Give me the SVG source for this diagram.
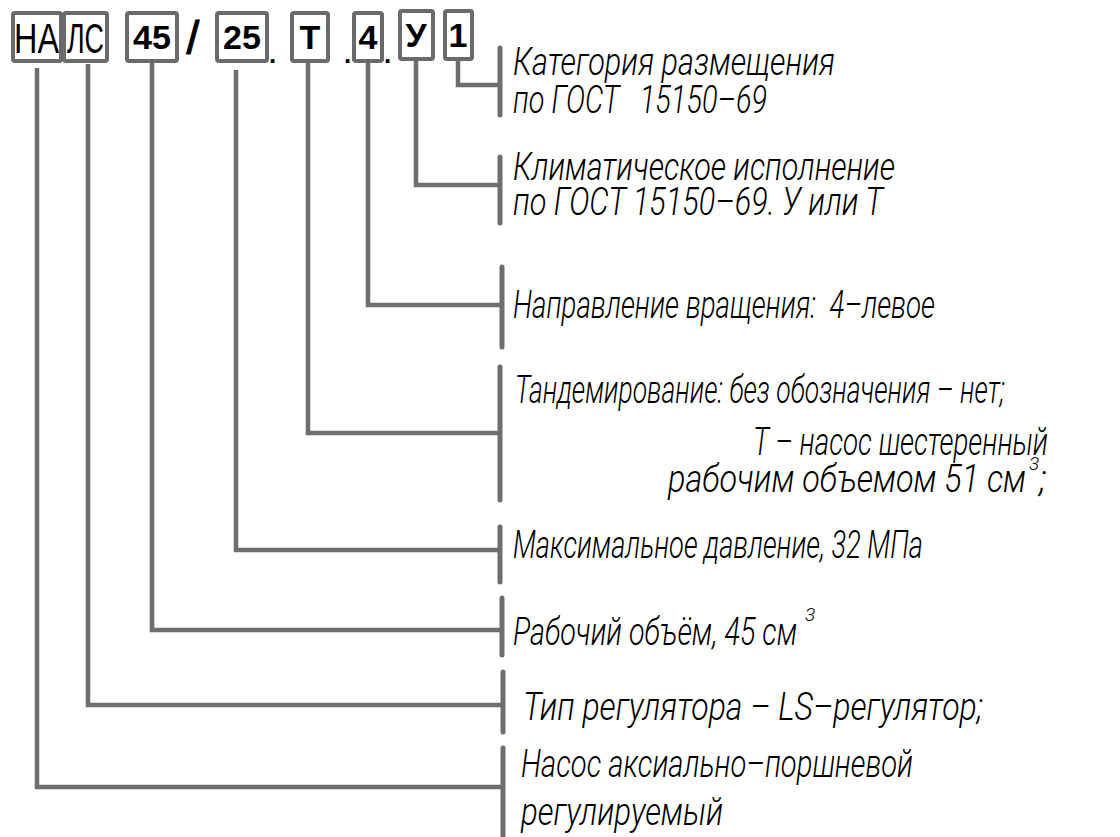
<svg xmlns="http://www.w3.org/2000/svg" width="1120" height="837" viewBox="0 0 1120 837">
<style>
.box{fill:#fff;stroke:#6a6a6a;stroke-width:4}
.con{fill:none;stroke:#6e6e6e;stroke-width:4.5;stroke-linejoin:miter}
.br{stroke:#6e6e6e;stroke-width:5;stroke-linecap:round}
.code{font-family:"Liberation Sans",Arial,sans-serif;font-weight:bold;font-size:34px;fill:#000;text-anchor:middle}
.thin{font-family:"Liberation Sans",Arial,sans-serif;font-size:42px;fill:#000}
.lbl{font-family:Roboto,"Liberation Sans",Arial,sans-serif;font-style:italic;font-weight:300;font-size:38px;fill:#000}
.dot{font-family:"Liberation Sans",Arial,sans-serif;font-weight:bold;font-size:26px;fill:#000}
</style>
<rect width="1120" height="837" fill="#fff"/>
<g id="connectors">
<path class="con" d="M37 68V787H503"/>
<path class="con" d="M88 64V705H503"/>
<path class="con" d="M152 62V630H502"/>
<path class="con" d="M236 70V550H500"/>
<path class="con" d="M308 62V433H500"/>
<path class="con" d="M368 62V305H502"/>
<path class="con" d="M416 60V185H500"/>
<path class="con" d="M458 60V85H500"/>
<line class="br" x1="500" y1="48" x2="500" y2="115"/>
<line class="br" x1="500" y1="157" x2="500" y2="223"/>
<line class="br" x1="502" y1="267" x2="502" y2="347"/>
<line class="br" x1="500" y1="367" x2="500" y2="500"/>
<line class="br" x1="500" y1="527" x2="500" y2="582"/>
<line class="br" x1="502" y1="598" x2="502" y2="655"/>
<line class="br" x1="503" y1="672" x2="503" y2="732"/>
<line class="br" x1="503" y1="748" x2="503" y2="840"/>
</g>
<g id="code">
<g id="box-NA"><rect class="box" x="13" y="13" width="48" height="48" rx="2"/><text class="thin" x="14" y="53" textLength="45" lengthAdjust="spacingAndGlyphs">НА</text></g>
<g id="box-LS"><rect class="box" x="64" y="13" width="43" height="48" rx="2"/><text class="thin" x="67" y="53" textLength="37" lengthAdjust="spacingAndGlyphs">ЛС</text></g>
<g id="box-45"><rect class="box" x="127" y="13" width="50" height="48" rx="2"/><text class="code" x="152" y="49">45</text></g>
<text x="193" y="54" style="font-family:'Liberation Sans',Arial,sans-serif;font-size:46px;text-anchor:middle;fill:#000;stroke:#000;stroke-width:1">/</text>
<g id="box-25"><rect class="box" x="217" y="13" width="50" height="48" rx="2"/><text class="code" x="242" y="49">25</text></g>
<text class="dot" x="269" y="63">.</text>
<g id="box-T"><rect class="box" x="292" y="13" width="36" height="48" rx="2"/><text class="code" x="310" y="49">Т</text></g>
<text class="dot" x="344" y="63">.</text>
<g id="box-4"><rect class="box" x="354" y="13" width="28" height="48" rx="2"/><text class="code" x="368" y="49">4</text></g>
<text class="dot" x="384" y="63">.</text>
<g id="box-U"><rect class="box" x="400" y="11" width="33" height="48" rx="2"/><text class="code" x="416" y="47">У</text></g>
<g id="box-1"><rect class="box" x="445" y="11" width="27" height="48" rx="2"/><text class="code" x="458" y="47">1</text></g>
</g>
<g id="n1"><text class="lbl" x="513" y="75" textLength="322" lengthAdjust="spacingAndGlyphs">Категория размещения</text><text class="lbl" x="513" y="113" textLength="254" lengthAdjust="spacingAndGlyphs" xml:space="preserve">по ГОСТ   15150–69</text></g>
<g id="n2"><text class="lbl" x="513" y="180" textLength="382" lengthAdjust="spacingAndGlyphs">Климатическое исполнение</text><text class="lbl" x="513" y="215" textLength="370" lengthAdjust="spacingAndGlyphs">по ГОСТ 15150–69. У или Т</text></g>
<g id="n3"><text class="lbl" x="513" y="318" textLength="422" lengthAdjust="spacingAndGlyphs" xml:space="preserve">Направление вращения:  4–левое</text></g>
<g id="n4"><text class="lbl" x="515" y="403" textLength="490" lengthAdjust="spacingAndGlyphs">Тандемирование: без обозначения – нет;</text><text class="lbl" x="753" y="455" textLength="295" lengthAdjust="spacingAndGlyphs">Т – насос шестеренный</text><text class="lbl" x="668" y="492"><tspan textLength="358" lengthAdjust="spacingAndGlyphs">рабочим объемом 51 см</tspan><tspan dx="3" dy="-22" font-size="19">3</tspan><tspan dy="22">;</tspan></text></g>
<g id="n5"><text class="lbl" x="513" y="558" textLength="410" lengthAdjust="spacingAndGlyphs">Максимальное давление, 32 МПа</text></g>
<g id="n6"><text class="lbl" x="513" y="645"><tspan textLength="284" lengthAdjust="spacingAndGlyphs">Рабочий объём, 45 см</tspan><tspan dx="8" dy="-24" font-size="19">3</tspan></text></g>
<g id="n7"><text class="lbl" x="523" y="720" textLength="460" lengthAdjust="spacingAndGlyphs">Тип регулятора – LS–регулятор;</text></g>
<g id="n8"><text class="lbl" x="521" y="777" textLength="392" lengthAdjust="spacingAndGlyphs">Насос аксиально–поршневой</text><text class="lbl" x="521" y="825" textLength="202" lengthAdjust="spacingAndGlyphs">регулируемый</text></g>
</svg>
